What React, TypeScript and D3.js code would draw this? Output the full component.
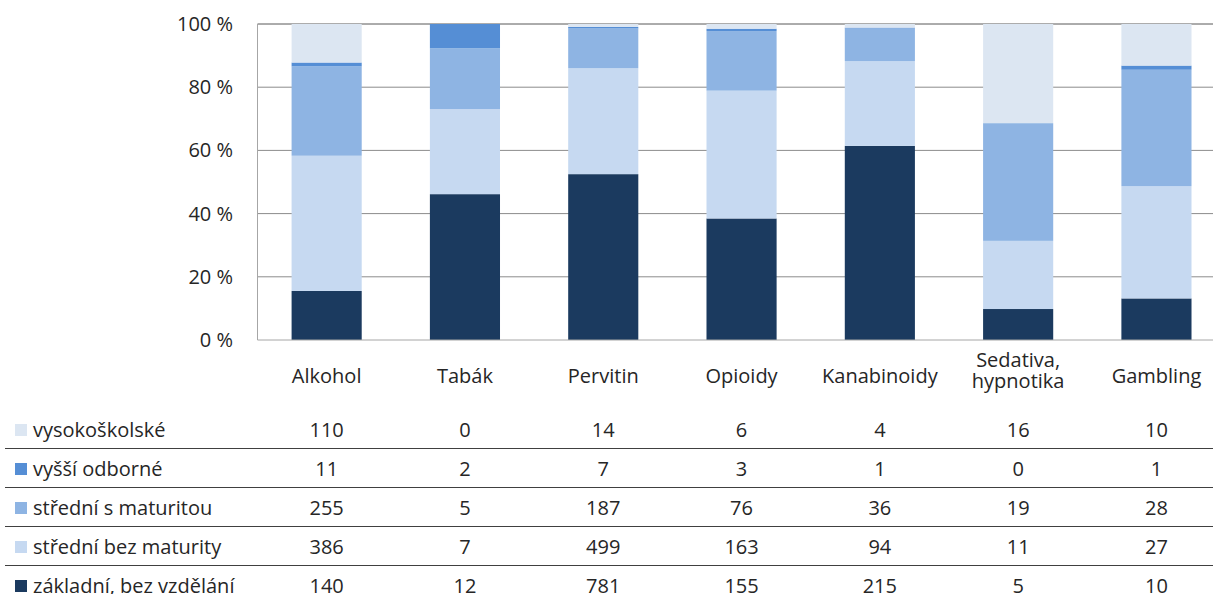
import React from "react";
import * as d3 from "d3";

const categories = ["Alkohol", "Tabák", "Pervitin", "Opioidy", "Kanabinoidy", "Sedativa, hypnotika", "Gambling"];
const seriesNames = ["základní, bez vzdělání", "střední bez maturity", "střední s maturitou", "vyšší odborné", "vysokoškolské"];
const zakladni = [140, 12, 781, 155, 215, 5, 10];
const stredniBez = [386, 7, 499, 163, 94, 11, 27];
const stredniS = [255, 5, 187, 76, 36, 19, 28];
const vyssi = [11, 2, 7, 3, 1, 0, 1];
const vysoko = [110, 0, 14, 6, 4, 16, 10];
const yTicks = [0, 20, 40, 60, 80, 100];
const colors = ["#1B3A5F", "#C6D9F1", "#8EB4E3", "#558ED5", "#DCE6F2"];

const seriesValues = [zakladni, stredniBez, stredniS, vyssi, vysoko];

export default function App() {
  const W = 1213, H = 594;
  const left = 257.5, top = 24, bottom = 340;
  const step = 138.3;
  const x = d3.scaleBand<string>().domain(categories).range([left, left + step * categories.length]).paddingInner(0.493).paddingOuter(0.2465);
  const y = d3.scaleLinear().domain([0, 100]).range([bottom, top]);

  const rows = categories.map((c, i) => {
    const r: any = { cat: c };
    seriesNames.forEach((s, j) => (r[s] = seriesValues[j][i]));
    return r;
  });
  const stacked = d3.stack<any>().keys(seriesNames).offset(d3.stackOffsetExpand)(rows);

  const font = "'Open Sans', 'Noto Sans', sans-serif";
  const fs = 20;
  const tableRows = [...seriesNames.map((s, j) => ({ name: s, vals: seriesValues[j], color: colors[j] }))].reverse();
  const rowY0 = 430, rowStep = 39;

  return (
    <svg width={W} height={H} style={{ position: "absolute", left: 0, top: 0 }} fontFamily={font}>
      <rect width={W} height={H} fill="#fff" />
      {yTicks.map((t) => (
        <g key={t}>
          {t > 0 && <line x1={left} x2={W} y1={y(t)} y2={y(t)} stroke={t === 100 ? "#595959" : "#8c8c8c"} strokeWidth={1} />}
          <text x={233} y={y(t)} dy="0.35em" textAnchor="end" fontSize={fs} fill="#262626">{`${t} %`}</text>
        </g>
      ))}
      {stacked.map((layer, j) => (
        <g key={j} fill={colors[j]}>
          {layer.map((d, i) => (
            <rect key={i} x={x(categories[i])} width={x.bandwidth()} y={y(d[1] * 100)} height={Math.max(0, y(d[0] * 100) - y(d[1] * 100))} />
          ))}
        </g>
      ))}
      <line x1={left} x2={left} y1={top} y2={bottom} stroke="#a6a6a6" />
      <line x1={left} x2={W} y1={bottom} y2={bottom} stroke="#a6a6a6" />
      {categories.map((c) => {
        const cx = (x(c) as number) + x.bandwidth() / 2;
        const parts = c.includes(", ") ? [c.split(", ")[0] + ",", c.split(", ")[1]] : [c];
        return (
          <text key={c} x={cx} y={parts.length > 1 ? 360 : 376} textAnchor="middle" fontSize={fs} fill="#262626">
            {parts.map((p, k) => (
              <tspan key={k} x={cx} dy={k === 0 ? "0.35em" : "21px"}>{p}</tspan>
            ))}
          </text>
        );
      })}
      {tableRows.map((r, k) => {
        const cy = rowY0 + k * rowStep;
        return (
          <g key={r.name}>
            <rect x={15} y={cy - 6} width={12} height={12} fill={r.color} />
            <text x={33} y={cy} dy="0.35em" fontSize={fs} fill="#262626">{r.name}</text>
            {r.vals.map((v, i) => (
              <text key={i} x={(x(categories[i]) as number) + x.bandwidth() / 2} y={cy} dy="0.35em" textAnchor="middle" fontSize={fs} fill="#262626">{v}</text>
            ))}
            {k < tableRows.length - 1 && <line x1={5} x2={W} y1={cy + 18.5} y2={cy + 18.5} stroke="#404040" strokeWidth={1.2} />}
          </g>
        );
      })}
    </svg>
  );
}
